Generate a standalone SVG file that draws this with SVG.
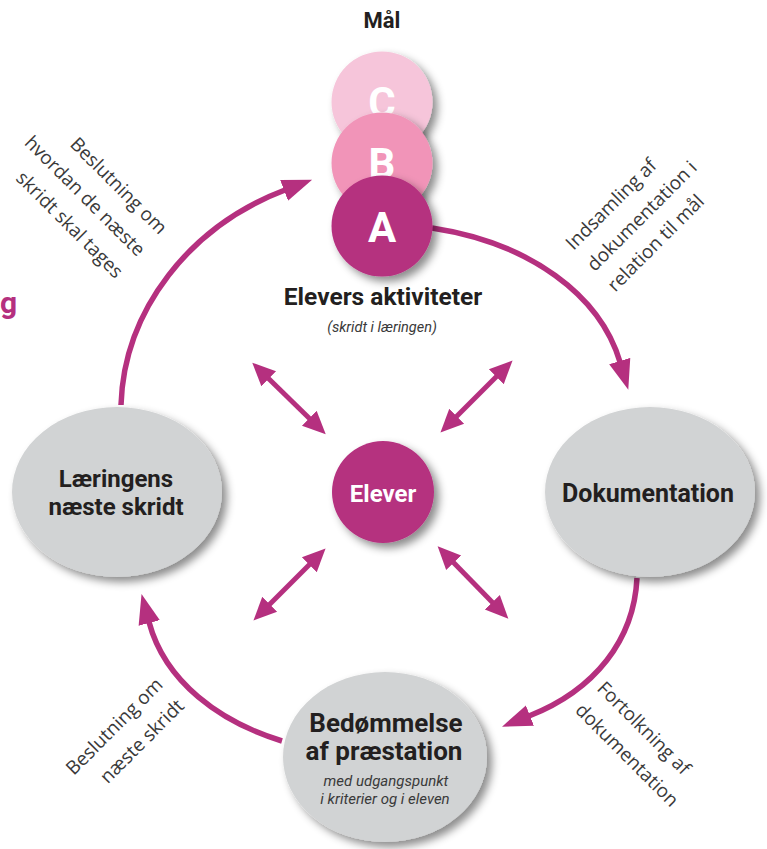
<svg xmlns="http://www.w3.org/2000/svg" width="767" height="849" viewBox="0 0 767 849">
  <style>
    .bold { font-family: Roboto, "Liberation Sans", sans-serif; font-weight: 700; fill: #231f20; }
    .ital { font-family: Roboto, "Liberation Sans", sans-serif; font-style: italic; font-weight: 400; fill: #3a3a3a; }
    .side { font-family: "Open Sans", "Liberation Sans", sans-serif; font-weight: 400; font-size: 19px; fill: #3a3a3a; }
    .letter { font-family: Roboto, "Liberation Sans", sans-serif; font-weight: 700; font-size: 42px; fill: #ffffff; text-anchor: middle; }
    .mid { text-anchor: middle; }
    .node-grey { fill: #d1d3d4; }
    .flow { fill: none; stroke: #b5307f; stroke-width: 5.5; }
    .spoke { fill: none; stroke: #b5307f; stroke-width: 5; }
  </style>
  <defs>
    <filter id="shadow" x="-20%" y="-20%" width="150%" height="150%">
      <feDropShadow dx="5" dy="5" stdDeviation="4" flood-color="#000000" flood-opacity="0.45"/>
    </filter>
    <marker id="head" markerUnits="userSpaceOnUse" markerWidth="32" markerHeight="26" viewBox="0 -13 32 26" refX="1" refY="0" orient="auto">
      <path d="M0,-11 L30,0 L0,11 z" fill="#b5307f"/>
    </marker>
    <marker id="tip" markerUnits="userSpaceOnUse" markerWidth="26" markerHeight="24" viewBox="0 -12 26 24" refX="1" refY="0" orient="auto-start-reverse">
      <path d="M0,-10.5 L23,0 L0,10.5 z" fill="#b5307f"/>
    </marker>
  </defs>

  <rect width="767" height="849" fill="#ffffff"/>

  <!-- partial heading letter at left edge -->
  <text x="0" y="313" class="bold" style="font-size:30px; fill:#b5307f;">g</text>

  <!-- connectors -->
  <g id="connectors">
    <path class="flow" d="M432 228 C530 243, 600 295, 620 362" marker-end="url(#head)"/>
    <path class="flow" d="M637 578 C634 640, 595 690, 529 716" marker-end="url(#head)"/>
    <path class="flow" d="M282 741 C220 722, 165 682, 149 622" marker-end="url(#head)"/>
    <path class="flow" d="M121 405 C124 310, 190 226, 285 190" marker-end="url(#head)"/>
    <line class="spoke" x1="268" y1="378" x2="310" y2="419" marker-start="url(#tip)" marker-end="url(#tip)"/>
    <line class="spoke" x1="497" y1="376" x2="456" y2="417" marker-start="url(#tip)" marker-end="url(#tip)"/>
    <line class="spoke" x1="310" y1="564" x2="269" y2="605" marker-start="url(#tip)" marker-end="url(#tip)"/>
    <line class="spoke" x1="453" y1="562" x2="493" y2="603" marker-start="url(#tip)" marker-end="url(#tip)"/>
  </g>

  <!-- goals stack -->
  <g id="goals">
    <text x="382" y="28" class="bold mid" style="font-size:22px;">Mål</text>
    <g id="goal-c">
      <circle cx="382" cy="102" r="50.5" fill="#f6c5da" filter="url(#shadow)"/>
      <text x="382" y="117" class="letter">C</text>
    </g>
    <g id="goal-b">
      <circle cx="382" cy="163" r="50.5" fill="#f194b8" filter="url(#shadow)"/>
      <text x="382" y="178" class="letter">B</text>
    </g>
    <g id="goal-a">
      <circle cx="382" cy="226" r="50.5" fill="#b5307f" filter="url(#shadow)"/>
      <text x="382" y="242" class="letter">A</text>
    </g>
  </g>

  <g id="activities">
    <text x="383" y="305" class="bold mid" style="font-size:24.5px;">Elevers aktiviteter</text>
    <text x="382" y="332" class="ital mid" style="font-size:14.5px;">(skridt i læringen)</text>
  </g>

  <g id="elever">
    <circle cx="383" cy="492" r="51" fill="#b5307f" filter="url(#shadow)"/>
    <text x="383" y="502" class="bold mid" style="font-size:24px; fill:#ffffff;">Elever</text>
  </g>

  <g id="laeringens">
    <ellipse cx="117" cy="492" rx="105" ry="85" class="node-grey" filter="url(#shadow)"/>
    <text x="116" y="487" class="bold mid" style="font-size:24px;">Læringens</text>
    <text x="116" y="515" class="bold mid" style="font-size:24px;">næste skridt</text>
  </g>

  <g id="dokumentation">
    <ellipse cx="650" cy="492" rx="105" ry="85" class="node-grey" filter="url(#shadow)"/>
    <text x="648" y="502" class="bold mid" style="font-size:25px;">Dokumentation</text>
  </g>

  <g id="bedommelse">
    <ellipse cx="385" cy="757" rx="102" ry="85" class="node-grey" filter="url(#shadow)"/>
    <text x="386" y="732" class="bold mid" style="font-size:26px;">Bedømmelse</text>
    <text x="384" y="760" class="bold mid" style="font-size:26px;">af præstation</text>
    <text x="386" y="786" class="ital mid" style="font-size:15px;">med udgangspunkt</text>
    <text x="385" y="804" class="ital mid" style="font-size:15px;">i kriterier og i eleven</text>
  </g>

  <!-- rotated step labels -->
  <g id="label-beslutning-hvordan" transform="rotate(45)">
    <text x="279" y="54" class="side" text-anchor="end">Beslutning om</text>
    <text x="279" y="85" class="side" text-anchor="end">hvordan de næste</text>
    <text x="279" y="116" class="side" text-anchor="end">skridt skal tages</text>
  </g>
  <g id="label-indsamling" transform="rotate(-45)">
    <text x="228" y="583" class="side">Indsamling af</text>
    <text x="228" y="613" class="side">dokumentation i</text>
    <text x="228" y="642" class="side">relation til mål</text>
  </g>
  <g id="label-fortolkning" transform="rotate(45)">
    <text x="909" y="66" class="side">Fortolkning af</text>
    <text x="909" y="97" class="side">dokumentation</text>
  </g>
  <g id="label-beslutning-naeste" transform="rotate(-45)">
    <text x="-369" y="601" class="side" text-anchor="end">Beslutning om</text>
    <text x="-369" y="631" class="side" text-anchor="end">næste skridt</text>
  </g>
</svg>
